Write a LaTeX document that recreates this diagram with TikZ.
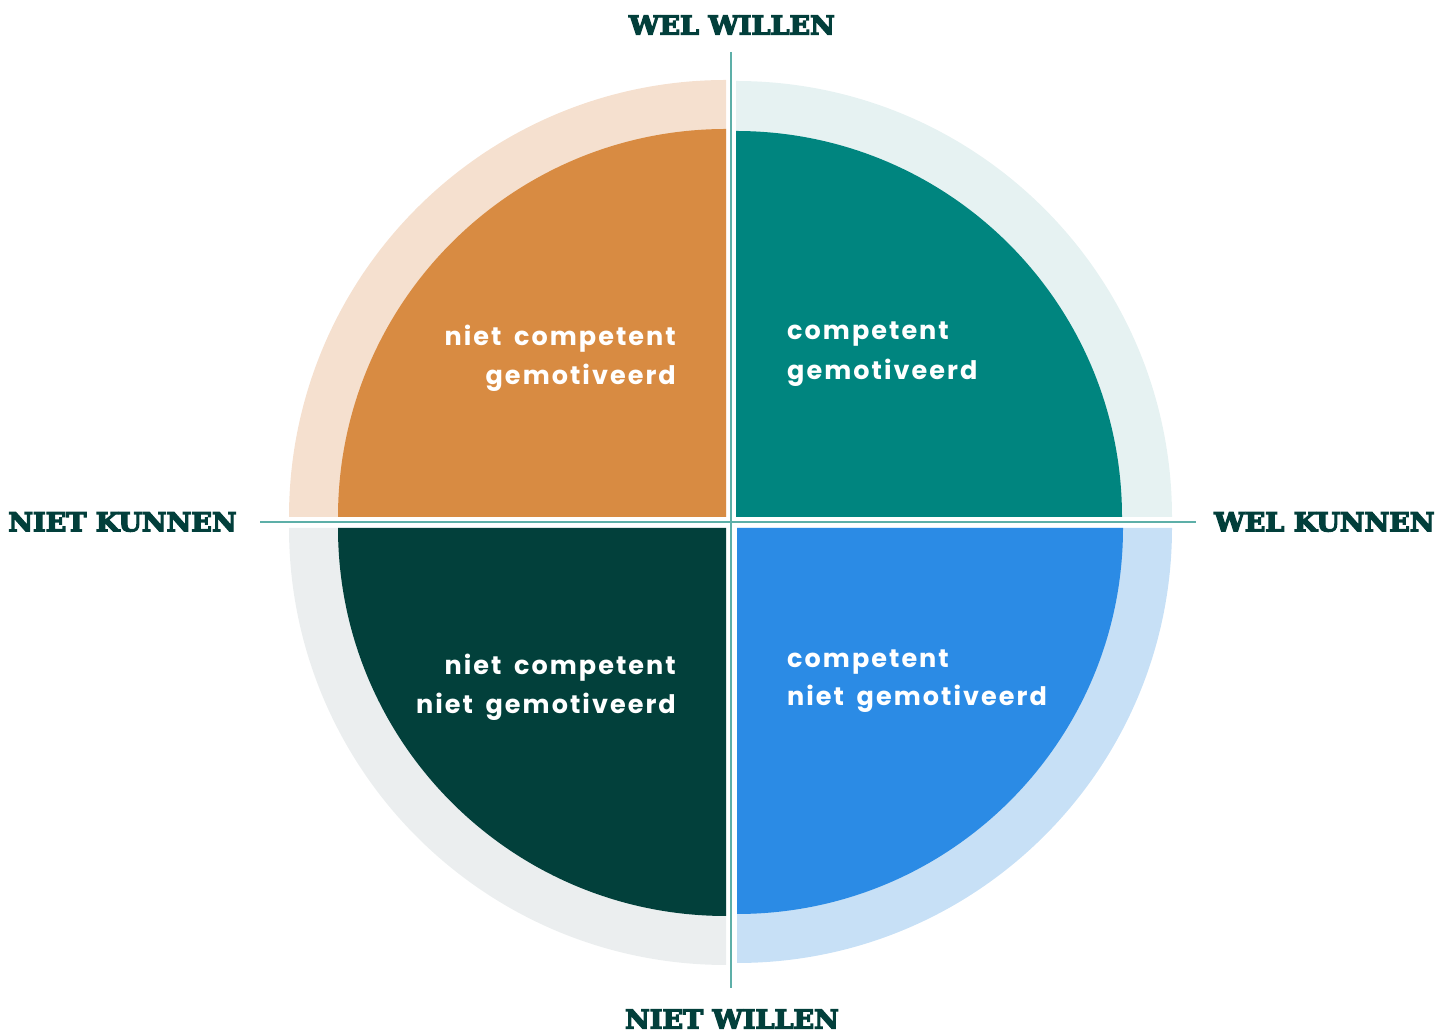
\documentclass[tikz,border=0pt]{standalone}
\usepackage{fontspec}
\setmainfont{Poppins}
\newfontfamily\quadfont{Poppins}[LetterSpace=8,WordSpace=1.7]
\newfontfamily\slabfont{DejaVu Serif Bold}[FakeBold=5,FakeStretch=1.04]
\definecolor{qorange}{HTML}{D88B42}
\definecolor{qorangeL}{HTML}{F5E0CF}
\definecolor{qteal}{HTML}{00857F}
\definecolor{qtealL}{HTML}{E6F2F2}
\definecolor{qdark}{HTML}{02403B}
\definecolor{qgrayL}{HTML}{EBEEEF}
\definecolor{qblue}{HTML}{2B8BE5}
\definecolor{qblueL}{HTML}{C7E0F6}
\definecolor{axisline}{HTML}{5DAFA8}
\definecolor{labelc}{HTML}{023F3B}
\tikzset{
  axislabel/.style={inner sep=0pt, text=labelc, font=\slabfont\fontsize{26}{30}\selectfont},
  quadtext/.style={inner sep=0pt, text=white, font=\quadfont\bfseries\fontsize{25.5}{30}\selectfont},
  axis/.style={draw=axisline, line width=1.5pt}
}
\begin{document}
\begin{tikzpicture}[x=1pt,y=1pt]
\useasboundingbox (0,0) rectangle (1448,1032);
% top-left
\fill[qorangeL] (726,515) -- ++(-437,0) arc[start angle=180,end angle=90,radius=437] -- cycle;
\fill[qorange] (726,515) -- ++(-388,0) arc[start angle=180,end angle=90,radius=388] -- cycle;
% top-right
\fill[qtealL] (736,515) -- ++(436,0) arc[start angle=0,end angle=90,radius=436] -- cycle;
\fill[qteal] (736,515) -- ++(386,0) arc[start angle=0,end angle=90,radius=386] -- cycle;
% bottom-left
\fill[qgrayL] (726,504) -- ++(-437,0) arc[start angle=180,end angle=270,radius=437] -- cycle;
\fill[qdark] (726,504) -- ++(-388,0) arc[start angle=180,end angle=270,radius=388] -- cycle;
% bottom-right
\fill[qblueL] (737,504) -- ++(435,0) arc[start angle=0,end angle=-90,radius=435] -- cycle;
\fill[qblue] (737,504) -- ++(386,0) arc[start angle=0,end angle=-90,radius=386] -- cycle;
% axes
\coordinate (vtop) at (731,980);
\coordinate (vbot) at (731,44);
\coordinate (hleft) at (260,510);
\coordinate (hright) at (1196,510);
\draw[axis] (vtop) -- (vbot);
\draw[axis] (hleft) -- (hright);
% axis labels
\node[axislabel] (welwillen) at (732,1007) {WEL WILLEN};
\node[axislabel] (nietwillen) at (732,13) {NIET WILLEN};
\node[axislabel] (nietkunnen) at (122.5,510) {NIET KUNNEN};
\node[axislabel] (welkunnen) at (1324.5,510) {WEL KUNNEN};
% quadrant texts
\node[quadtext, anchor=base east] (tl1) at (676,686) {niet competent};
\node[quadtext, anchor=base east] (tl2) at (676,647) {gemotiveerd};
\node[quadtext, anchor=base west] (tr1) at (787,692) {competent};
\node[quadtext, anchor=base west] (tr2) at (787,652) {gemotiveerd};
\node[quadtext, anchor=base east] (bl1) at (676,357) {niet competent};
\node[quadtext, anchor=base east] (bl2) at (676,318) {niet gemotiveerd};
\node[quadtext, anchor=base west] (br1) at (787,364) {competent};
\node[quadtext, anchor=base west] (br2) at (787,326) {niet gemotiveerd};
\end{tikzpicture}
\end{document}
